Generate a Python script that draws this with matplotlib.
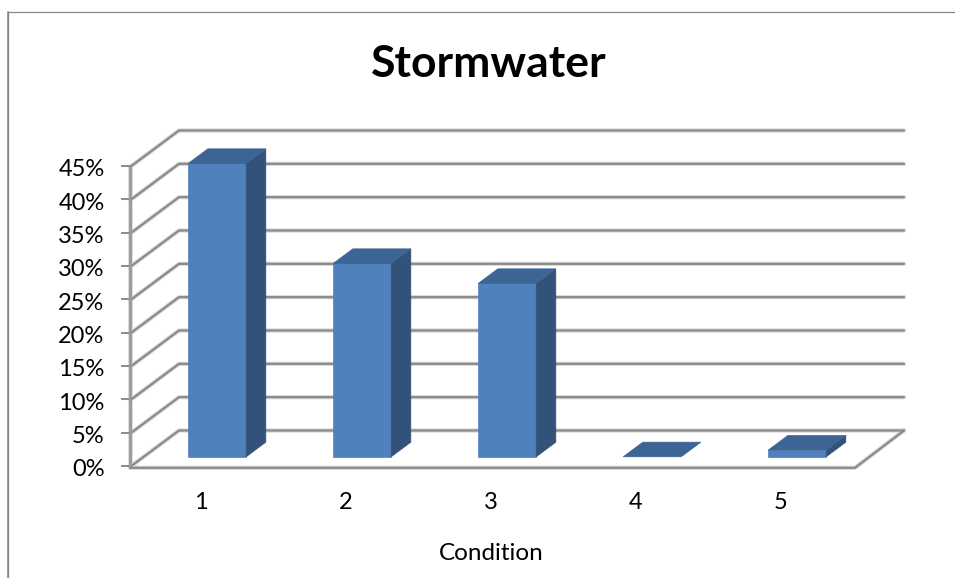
import matplotlib
matplotlib.use("Agg")
import matplotlib.pyplot as plt
from matplotlib.patches import Polygon

title = "Stormwater"
x_title = "Condition"
categories = ["1", "2", "3", "4", "5"]
values = [44, 29, 26, 0, 1]
y_ticks = [0, 5, 10, 15, 20, 25, 30, 35, 40, 45]

# oblique projection (pixel geometry of the chart box)
X0, Y0 = 130.0, 467.0      # front-left corner at 0 %
PLOT_W = 725.0             # front floor width
PX_PER_PCT = 300.0 / 45.0
DX, DY = 49.0, -36.5       # full depth offset
PITCH = 145.0
FIRST_BAR = 44.5           # left of first bar
BAR_W = 58.0
D_NEAR, D_FAR = 0.28, 0.68 # bar extents in depth fraction
FONT = "Lato"

def proj(x, v, d):
    return (X0 + x + DX * d, Y0 - v * PX_PER_PCT + DY * d)

fig = plt.figure(figsize=(9.55, 5.78), dpi=100)
ax = fig.add_axes([0, 0, 1, 1])
ax.set_xlim(0, 955)
ax.set_ylim(578, 0)
ax.axis("off")

GRID = "#8a8a8a"
HALO = "#dcdcdc"
def line(xs, ys, lw=1.6, color=GRID, z=2, halo=True):
    if halo:
        ax.plot(xs, ys, color=HALO, lw=lw + 1.6, zorder=z - 0.5, solid_capstyle="round")
    ax.plot(xs, ys, color=color, lw=lw, zorder=z, solid_capstyle="round")

# chart frame
ax.plot([7.5, 7.5, 955], [578, 12, 12], color="#868686", lw=0.9, zorder=1, solid_joinstyle="miter")
ax.plot([7.5, 7.5], [12, 578], color="#868686", lw=1.1, zorder=1)

# gridlines: side wall and back wall
for v in y_ticks:
    p0 = proj(0, v, 0); p1 = proj(0, v, 1); p2 = proj(PLOT_W, v, 1)
    line([p0[0], p1[0], p2[0]], [p0[1], p1[1], p2[1]])
    ax.plot([p0[0] - 8, p0[0]], [p0[1] - 1, p0[1] - 1], color=GRID, lw=1.4, zorder=2)
    ax.text(104.5, p0[1] + 3, f"{v}%", ha="right", va="center",
            fontsize=17, family=FONT, color="black")

# front axis + floor
pa = proj(0, 0, 0); pb = proj(0, y_ticks[-1], 0)
line([pa[0], pb[0]], [pa[1], pb[1]], lw=2.0, color="#999999")
pr = proj(PLOT_W, 0, 0); pq = proj(PLOT_W, 0, 1)
line([pa[0], pr[0], pq[0]], [pa[1] + 0.8, pr[1] + 0.8, pq[1]])

FRONT = "#4f81bd"
TOP = "#3c6494"
SIDE = "#325279"
for i, (c, v) in enumerate(zip(categories, values)):
    x0 = FIRST_BAR + PITCH * i
    x1 = x0 + BAR_W
    z = 5 + i
    def quad(pts, col):
        ax.add_patch(Polygon(pts, closed=True, facecolor=col, edgecolor=col, lw=0.5, zorder=z))
    if v > 0:
        quad([proj(x0, 0, D_NEAR), proj(x1, 0, D_NEAR), proj(x1, v, D_NEAR), proj(x0, v, D_NEAR)], FRONT)
        quad([proj(x1, 0, D_NEAR), proj(x1, 0, D_FAR), proj(x1, v, D_FAR), proj(x1, v, D_NEAR)], SIDE)
    quad([proj(x0, v, D_NEAR), proj(x1, v, D_NEAR), proj(x1, v, D_FAR), proj(x0, v, D_FAR)], TOP)
    ax.text(x0 + X0 + 26.5, 502.5, c, ha="center", va="center", fontsize=17, family=FONT, color="black")

ax.text(491, 554, x_title, ha="center", va="center", fontsize=17.5, family=FONT, color="black")
ax.text(488.5, 64, title, ha="center", va="center", fontsize=32, fontweight="bold", family=FONT, color="black")

fig.savefig("out.png", dpi=100, facecolor="white")
